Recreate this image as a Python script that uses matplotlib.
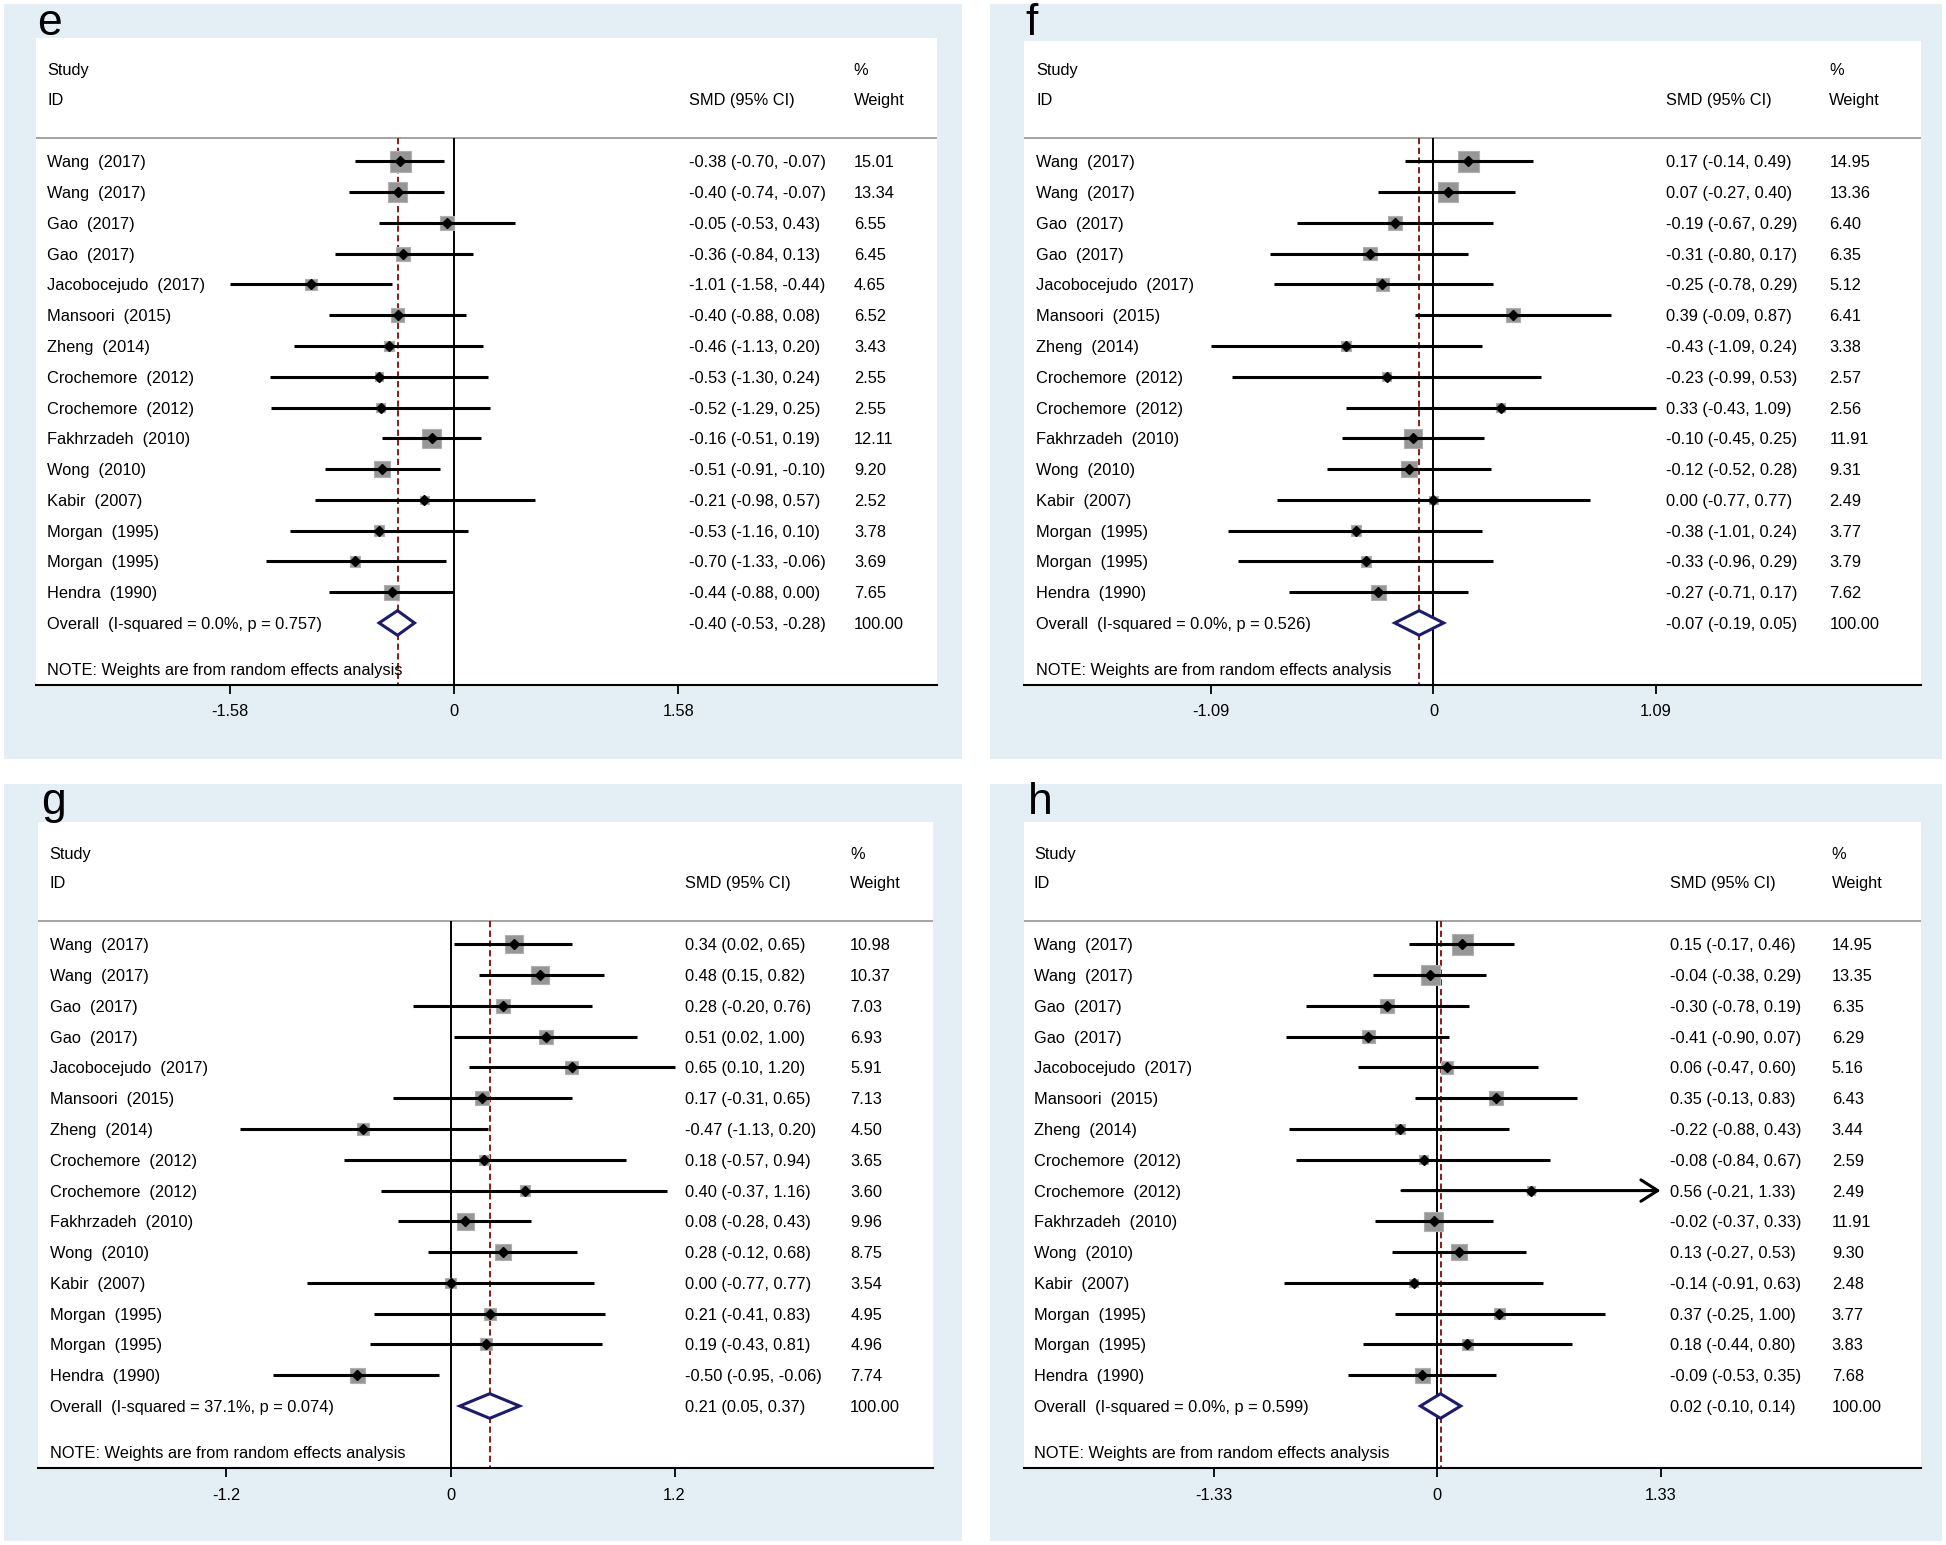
import matplotlib
matplotlib.use('Agg')
import matplotlib.pyplot as plt
from matplotlib.patches import Rectangle, Polygon
import numpy as np

plt.rcParams['font.family'] = ['Liberation Sans', 'DejaVu Sans']

# ---- data -----------------------------------------------------------------
names = ['Wang', 'Wang', 'Gao', 'Gao', 'Jacobocejudo', 'Mansoori', 'Zheng',
         'Crochemore', 'Crochemore', 'Fakhrzadeh', 'Wong', 'Kabir',
         'Morgan', 'Morgan', 'Hendra']
years = [2017, 2017, 2017, 2017, 2017, 2015, 2014, 2012, 2012, 2010, 2010,
         2007, 1995, 1995, 1990]

e_smd = [-0.38, -0.40, -0.05, -0.36, -1.01, -0.40, -0.46, -0.53, -0.52, -0.16, -0.51, -0.21, -0.53, -0.70, -0.44]
e_lo = [-0.70, -0.74, -0.53, -0.84, -1.58, -0.88, -1.13, -1.30, -1.29, -0.51, -0.91, -0.98, -1.16, -1.33, -0.88]
e_hi = [-0.07, -0.07, 0.43, 0.13, -0.44, 0.08, 0.20, 0.24, 0.25, 0.19, -0.10, 0.57, 0.10, -0.06, 0.00]
e_w = [15.01, 13.34, 6.55, 6.45, 4.65, 6.52, 3.43, 2.55, 2.55, 12.11, 9.20, 2.52, 3.78, 3.69, 7.65]
e_overall = (-0.40, -0.53, -0.28)
e_het = ('0.0%', '0.757')
e_tick = 1.58

f_smd = [0.17, 0.07, -0.19, -0.31, -0.25, 0.39, -0.43, -0.23, 0.33, -0.10, -0.12, 0.00, -0.38, -0.33, -0.27]
f_lo = [-0.14, -0.27, -0.67, -0.80, -0.78, -0.09, -1.09, -0.99, -0.43, -0.45, -0.52, -0.77, -1.01, -0.96, -0.71]
f_hi = [0.49, 0.40, 0.29, 0.17, 0.29, 0.87, 0.24, 0.53, 1.09, 0.25, 0.28, 0.77, 0.24, 0.29, 0.17]
f_w = [14.95, 13.36, 6.40, 6.35, 5.12, 6.41, 3.38, 2.57, 2.56, 11.91, 9.31, 2.49, 3.77, 3.79, 7.62]
f_overall = (-0.07, -0.19, 0.05)
f_het = ('0.0%', '0.526')
f_tick = 1.09

g_smd = [0.34, 0.48, 0.28, 0.51, 0.65, 0.17, -0.47, 0.18, 0.40, 0.08, 0.28, 0.00, 0.21, 0.19, -0.50]
g_lo = [0.02, 0.15, -0.20, 0.02, 0.10, -0.31, -1.13, -0.57, -0.37, -0.28, -0.12, -0.77, -0.41, -0.43, -0.95]
g_hi = [0.65, 0.82, 0.76, 1.00, 1.20, 0.65, 0.20, 0.94, 1.16, 0.43, 0.68, 0.77, 0.83, 0.81, -0.06]
g_w = [10.98, 10.37, 7.03, 6.93, 5.91, 7.13, 4.50, 3.65, 3.60, 9.96, 8.75, 3.54, 4.95, 4.96, 7.74]
g_overall = (0.21, 0.05, 0.37)
g_het = ('37.1%', '0.074')
g_tick = 1.2

h_smd = [0.15, -0.04, -0.30, -0.41, 0.06, 0.35, -0.22, -0.08, 0.56, -0.02, 0.13, -0.14, 0.37, 0.18, -0.09]
h_lo = [-0.17, -0.38, -0.78, -0.90, -0.47, -0.13, -0.88, -0.84, -0.21, -0.37, -0.27, -0.91, -0.25, -0.44, -0.53]
h_hi = [0.46, 0.29, 0.19, 0.07, 0.60, 0.83, 0.43, 0.67, 1.33, 0.33, 0.53, 0.63, 1.00, 0.80, 0.35]
h_w = [14.95, 13.35, 6.35, 6.29, 5.16, 6.43, 3.44, 2.59, 2.49, 11.91, 9.30, 2.48, 3.77, 3.83, 7.68]
h_overall = (0.02, -0.10, 0.14)
h_het = ('0.0%', '0.599')
h_tick = 1.33
h_arrows = [8]   # CI runs off the right end of the axis

panels = [
    ('e', e_smd, e_lo, e_hi, e_w, e_overall, e_het, e_tick, []),
    ('f', f_smd, f_lo, f_hi, f_w, f_overall, f_het, f_tick, []),
    ('g', g_smd, g_lo, g_hi, g_w, g_overall, g_het, g_tick, []),
    ('h', h_smd, h_lo, h_hi, h_w, h_overall, h_het, h_tick, h_arrows),
]

# ---- layout (reference pixel positions, 1568x1245 grid) ------------------
GW, GH = 1568.0, 1245.0
ROW = 24.8
layout = {
    'e': dict(outer=(3, 3, 775, 612), white=(29, 31, 755, 552), zero=366, span=180.5,
              row0=130, study_y=56, id_y=80, hdr_y=111, note_y=539,
              letter=(30, 28), cols=(38, 555, 688)),
    'f': dict(outer=(798, 3, 1565, 612), white=(825, 33, 1548, 552), zero=1155, span=179,
              row0=130, study_y=56, id_y=80, hdr_y=111, note_y=539,
              letter=(826, 28), cols=(835, 1342, 1474)),
    'g': dict(outer=(3, 632, 775, 1242), white=(31, 662, 752, 1183), zero=363, span=180.5,
              row0=761, study_y=687, id_y=711, hdr_y=742, note_y=1170,
              letter=(33, 656), cols=(40, 552, 685)),
    'h': dict(outer=(798, 632, 1565, 1242), white=(825, 662, 1548, 1183), zero=1158, span=180,
              row0=761, study_y=687, id_y=711, hdr_y=742, note_y=1170,
              letter=(828, 656), cols=(833, 1346, 1476)),
}

BG = '#E3EFF4'
FS = 11.8

fig = plt.figure(figsize=(19.46, 15.45), dpi=100)
fig.patch.set_facecolor('white')

for key, smd, lo, hi, w, overall, het, tick, arrows in panels:
    L = layout[key]
    ox0, oy0, ox1, oy1 = L['outer']
    fig.patches.append(Rectangle((ox0 / GW, 1 - oy1 / GH), (ox1 - ox0) / GW, (oy1 - oy0) / GH,
                                 transform=fig.transFigure, facecolor=BG, edgecolor='none', zorder=-5))
    wx0, wy0, wx1, wy1 = L['white']
    ax = fig.add_axes([wx0 / GW, 1 - wy1 / GH, (wx1 - wx0) / GW, (wy1 - wy0) / GH])
    ax.set_facecolor('white')
    ax.set_zorder(1)

    pxu = L['span'] / tick
    ax.set_xlim((wx0 - L['zero']) / pxu, (wx1 - L['zero']) / pxu)
    def row(ypx):
        return (ypx - L['row0']) / ROW
    bottom, top = row(wy1), row(wy0)
    ax.set_ylim(bottom, top)

    hdr = row(L['hdr_y'])
    ax.axhline(hdr, color='#8a8a8a', lw=1.1, zorder=1)
    ax.vlines(0, hdr, bottom, color='black', lw=1.4, zorder=1)
    ax.vlines(overall[0], hdr, bottom, color='#8B1A1A', lw=1.4,
              linestyle=(0, (3.2, 1.8)), zorder=1)

    rows = np.arange(len(smd))
    sizes = (3.9 * np.sqrt(w)) ** 2
    ax.scatter(smd, rows, s=sizes, marker='s', facecolor='#969696',
               edgecolor='#b0b0b0', linewidth=0.8, zorder=2)
    for i in rows:
        if i in arrows:
            ax.annotate('', xy=(hi[i], i), xytext=(lo[i], i),
                        arrowprops=dict(arrowstyle='->, head_length=0.55, head_width=0.35',
                                        lw=2.2, color='black', shrinkA=0, shrinkB=0,
                                        mutation_scale=22), zorder=3)
        else:
            ax.plot([lo[i], hi[i]], [i, i], color='black', lw=2.2,
                    solid_capstyle='butt', zorder=3)
    ax.plot(smd, rows, linestyle='none', marker='D', markersize=4.6,
            color='black', zorder=4)

    # overall diamond
    r_ov = len(smd)
    est, olo, ohi = overall
    dh = 0.4
    ax.add_patch(Polygon([(olo, r_ov), (est, r_ov - dh), (ohi, r_ov), (est, r_ov + dh)],
                         closed=True, facecolor='white', edgecolor='#1c1c6b',
                         lw=2.2, joinstyle='miter', zorder=5))

    # text columns
    tr = ax.get_yaxis_transform()
    cx = [(c - wx0) / (wx1 - wx0) for c in L['cols']]
    kw = dict(transform=tr, fontsize=FS, va='center_baseline', ha='left', color='black')
    ax.text(cx[0], row(L['study_y']), 'Study', **kw)
    ax.text(cx[0], row(L['id_y']), 'ID', **kw)
    ax.text(cx[1], row(L['id_y']), 'SMD (95% CI)', **kw)
    ax.text(cx[2], row(L['study_y']), '%', **kw)
    ax.text(cx[2], row(L['id_y']), 'Weight', **kw)
    for i in rows:
        ax.text(cx[0], i, f'{names[i]}  ({years[i]})', **kw)
        ax.text(cx[1], i, f'{smd[i]:.2f} ({lo[i]:.2f}, {hi[i]:.2f})', **kw)
        ax.text(cx[2], i, f'{w[i]:.2f}', **kw)
    ax.text(cx[0], r_ov, f'Overall  (I-squared = {het[0]}, p = {het[1]})', **kw)
    ax.text(cx[1], r_ov, f'{est:.2f} ({olo:.2f}, {ohi:.2f})', **kw)
    ax.text(cx[2], r_ov, f'{100:.2f}', **kw)
    ax.text(cx[0], row(L['note_y']), 'NOTE: Weights are from random effects analysis', **kw)

    # axis
    for s in ['top', 'left', 'right']:
        ax.spines[s].set_visible(False)
    ax.spines['bottom'].set_linewidth(1.5)
    ax.set_yticks([])
    ax.set_xticks([-tick, 0, tick])
    ax.set_xticklabels([f'{-tick:g}', '0', f'{tick:g}'])
    ax.tick_params(axis='x', direction='out', length=6.5, width=1.3,
                   labelsize=FS, pad=7.5)

    lx, ly = L['letter']
    fig.text(lx / GW, 1 - ly / GH, key, fontsize=32, ha='left', va='baseline', zorder=2)

fig.savefig('out.png', dpi=100)
